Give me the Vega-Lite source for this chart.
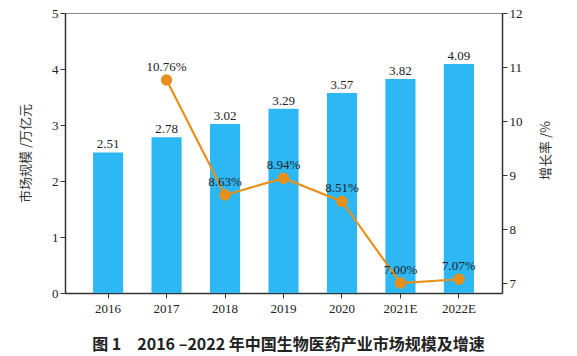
{
  "$schema": "https://vega.github.io/schema/vega-lite/v6.json",
  "autosize": {"type": "none"},
  "width": 437,
  "height": 280,
  "padding": {"left": 65, "top": 13, "right": 75, "bottom": 63},
  "background": "white",
  "config": {
    "view": {"stroke": "#888888", "strokeWidth": 1},
    "font": "Liberation Serif",
    "axis": {"grid": false, "domainColor": "#333333", "tickColor": "#333333", "labelColor": "#222222", "labelFont": "Liberation Serif", "labelFontSize": 13, "titleFont": "Noto Sans CJK SC", "titleFontWeight": "normal", "titleFontSize": 13, "titleColor": "#333333"}
  },
  "title": {
    "text": "图 1　2016 –2022 年中国生物医药产业市场规模及增速",
    "orient": "bottom",
    "anchor": "middle",
    "font": "Noto Sans CJK SC",
    "fontSize": 16,
    "fontWeight": "bold",
    "color": "#222222",
    "offset": 22,
    "dx": 5
  },
  "data": {
    "values": [
      {"year": "2016", "size": 2.51, "growth": null},
      {"year": "2017", "size": 2.78, "growth": 10.76},
      {"year": "2018", "size": 3.02, "growth": 8.63},
      {"year": "2019", "size": 3.29, "growth": 8.94},
      {"year": "2020", "size": 3.57, "growth": 8.51},
      {"year": "2021E", "size": 3.82, "growth": 7.00},
      {"year": "2022E", "size": 4.09, "growth": 7.07}
    ]
  },
  "encoding": {
    "x": {
      "field": "year", "type": "ordinal", "sort": null,
      "scale": {"paddingInner": 0.485, "paddingOuter": 0.48},
      "axis": {"title": null, "labelAngle": 0, "tickSize": 5, "labelPadding": 4, "domainWidth": 1.5}
    }
  },
  "layer": [
    {
      "layer": [
        {"mark": {"type": "bar", "color": "#2DB7F5"}},
        {"mark": {"type": "text", "dy": -8, "fontSize": 13, "font": "Liberation Serif", "color": "#222222"},
         "encoding": {"text": {"field": "size", "type": "quantitative", "format": ".2f"}}}
      ],
      "encoding": {
        "y": {
          "field": "size", "type": "quantitative",
          "scale": {"domain": [0, 5], "nice": false},
          "axis": {"title": "市场规模 /万亿元", "values": [0, 1, 2, 3, 4, 5], "tickSize": 5, "domainWidth": 1.5, "titleAngle": -90, "titleX": -40, "titleY": 140, "titleBaseline": "middle", "titleAlign": "center"}
        }
      }
    },
    {
      "transform": [
        {"filter": "datum.growth != null"},
        {"calculate": "format(datum.growth, '.2f') + '%'", "as": "label"}
      ],
      "layer": [
        {"mark": {"type": "line", "color": "#E8901C", "strokeWidth": 2.2}},
        {"mark": {"type": "point", "filled": true, "color": "#E8901C", "size": 130, "opacity": 1}},
        {"mark": {"type": "text", "dy": -13, "fontSize": 13, "font": "Liberation Serif", "color": "#222222"},
         "encoding": {"text": {"field": "label", "type": "nominal"}}}
      ],
      "encoding": {
        "y": {
          "field": "growth", "type": "quantitative",
          "scale": {"domain": [6.815, 12], "nice": false, "zero": false},
          "axis": {"orient": "right", "title": "增长率 /%", "values": [7, 8, 9, 10, 11, 12], "tickSize": 5, "domainWidth": 1.5, "titleAngle": -90, "titleX": 43, "titleY": 137, "titleBaseline": "middle", "titleAlign": "center"}
        }
      }
    }
  ],
  "resolve": {"scale": {"y": "independent"}}
}
